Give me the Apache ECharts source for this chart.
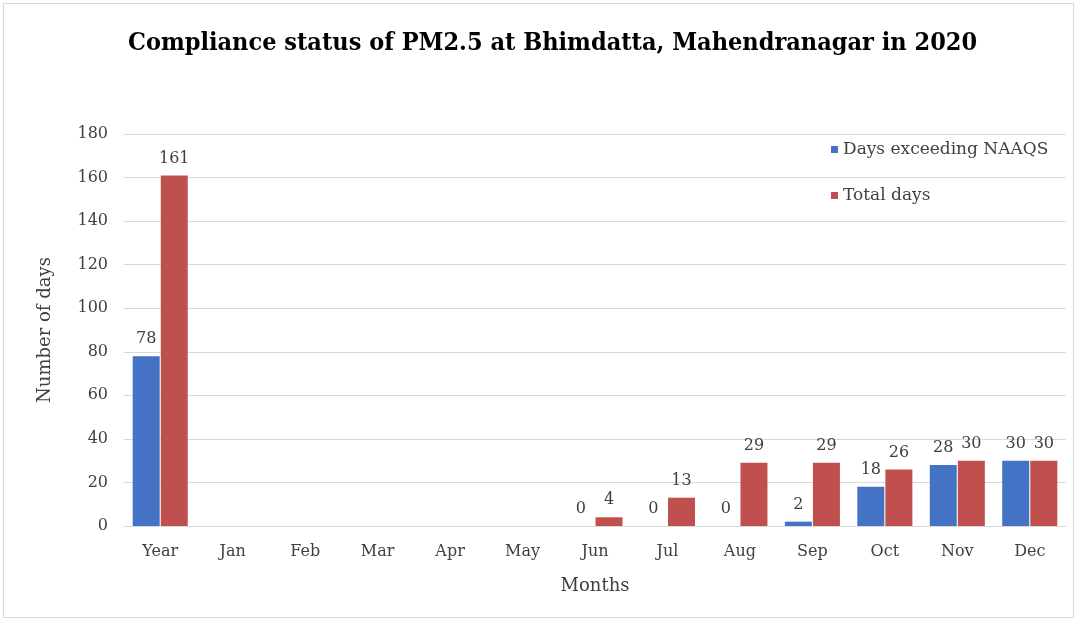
<!DOCTYPE html>
<html>
<head>
<meta charset="utf-8">
<script src="https://cdn.jsdelivr.net/npm/echarts@6/dist/echarts.min.js"></script>
<style>
html,body{margin:0;padding:0;background:#fff;}
#wrap{position:absolute;left:3px;top:3px;width:1071px;height:615px;border:1px solid #d9d9d9;box-sizing:border-box;}
#c{width:1079px;height:623px;position:absolute;left:0;top:0;}
</style>
</head>
<body>
<div id="wrap"></div>
<div id="c"></div>
<script>
const categories = ['Year','Jan','Feb','Mar','Apr','May','Jun','Jul','Aug','Sep','Oct','Nov','Dec'];
const exceeding = [78, null, null, null, null, null, 0, 0, 0, 2, 18, 28, 30];
const totalDays = [161, null, null, null, null, null, 4, 13, 29, 29, 26, 30, 30];
const yTicks = [0, 20, 40, 60, 80, 100, 120, 140, 160, 180];

const serif = 'DejaVu Serif';
const chart = echarts.init(document.getElementById('c'), null, {renderer: 'canvas'});
const labelStyle = {show: true, position: 'top', fontFamily: serif, fontSize: 16, color: '#404040', distance: 9};
chart.setOption({
  animation: false,
  title: {
    text: 'Compliance status of PM2.5 at Bhimdatta, Mahendranagar in 2020',
    left: 123, top: 26,
    textStyle: {fontFamily: 'DejaVu Serif Condensed', fontWeight: 'bold', fontSize: 25, color: '#000'}
  },
  legend: {
    orient: 'vertical', left: 826, top: 136, itemGap: 29,
    itemWidth: 7, itemHeight: 7, icon: 'rect',
    textStyle: {fontFamily: serif, fontSize: 17, color: '#404040'},
    data: ['Days exceeding NAAQS', 'Total days']
  },
  grid: {left: 124, right: 13, top: 134, bottom: 97},
  xAxis: {
    type: 'category', data: categories,
    name: 'Months', nameLocation: 'middle', nameGap: 51,
    nameTextStyle: {fontFamily: serif, fontSize: 18, color: '#404040'},
    axisTick: {show: false},
    axisLine: {lineStyle: {color: '#d9d9d9'}},
    axisLabel: {fontFamily: serif, fontSize: 16, color: '#404040', margin: 18}
  },
  yAxis: {
    type: 'value', min: 0, max: 180, interval: 20,
    name: 'Number of days', nameLocation: 'middle', nameGap: 70,
    nameTextStyle: {fontFamily: serif, fontSize: 18, color: '#404040'},
    axisLine: {show: false}, axisTick: {show: false},
    axisLabel: {fontFamily: serif, fontSize: 16, color: '#404040', margin: 16,
      formatter: v => yTicks.includes(v) ? String(v) : ''},
    splitLine: {lineStyle: {color: '#d9d9d9'}}
  },
  series: [
    {name: 'Days exceeding NAAQS', type: 'bar', data: exceeding, barGap: '4%', barCategoryGap: '24%',
     itemStyle: {color: '#4472C4'}, label: labelStyle},
    {name: 'Total days', type: 'bar', data: totalDays,
     itemStyle: {color: '#C0504D'}, label: labelStyle}
  ]
});
</script>
</body>
</html>
